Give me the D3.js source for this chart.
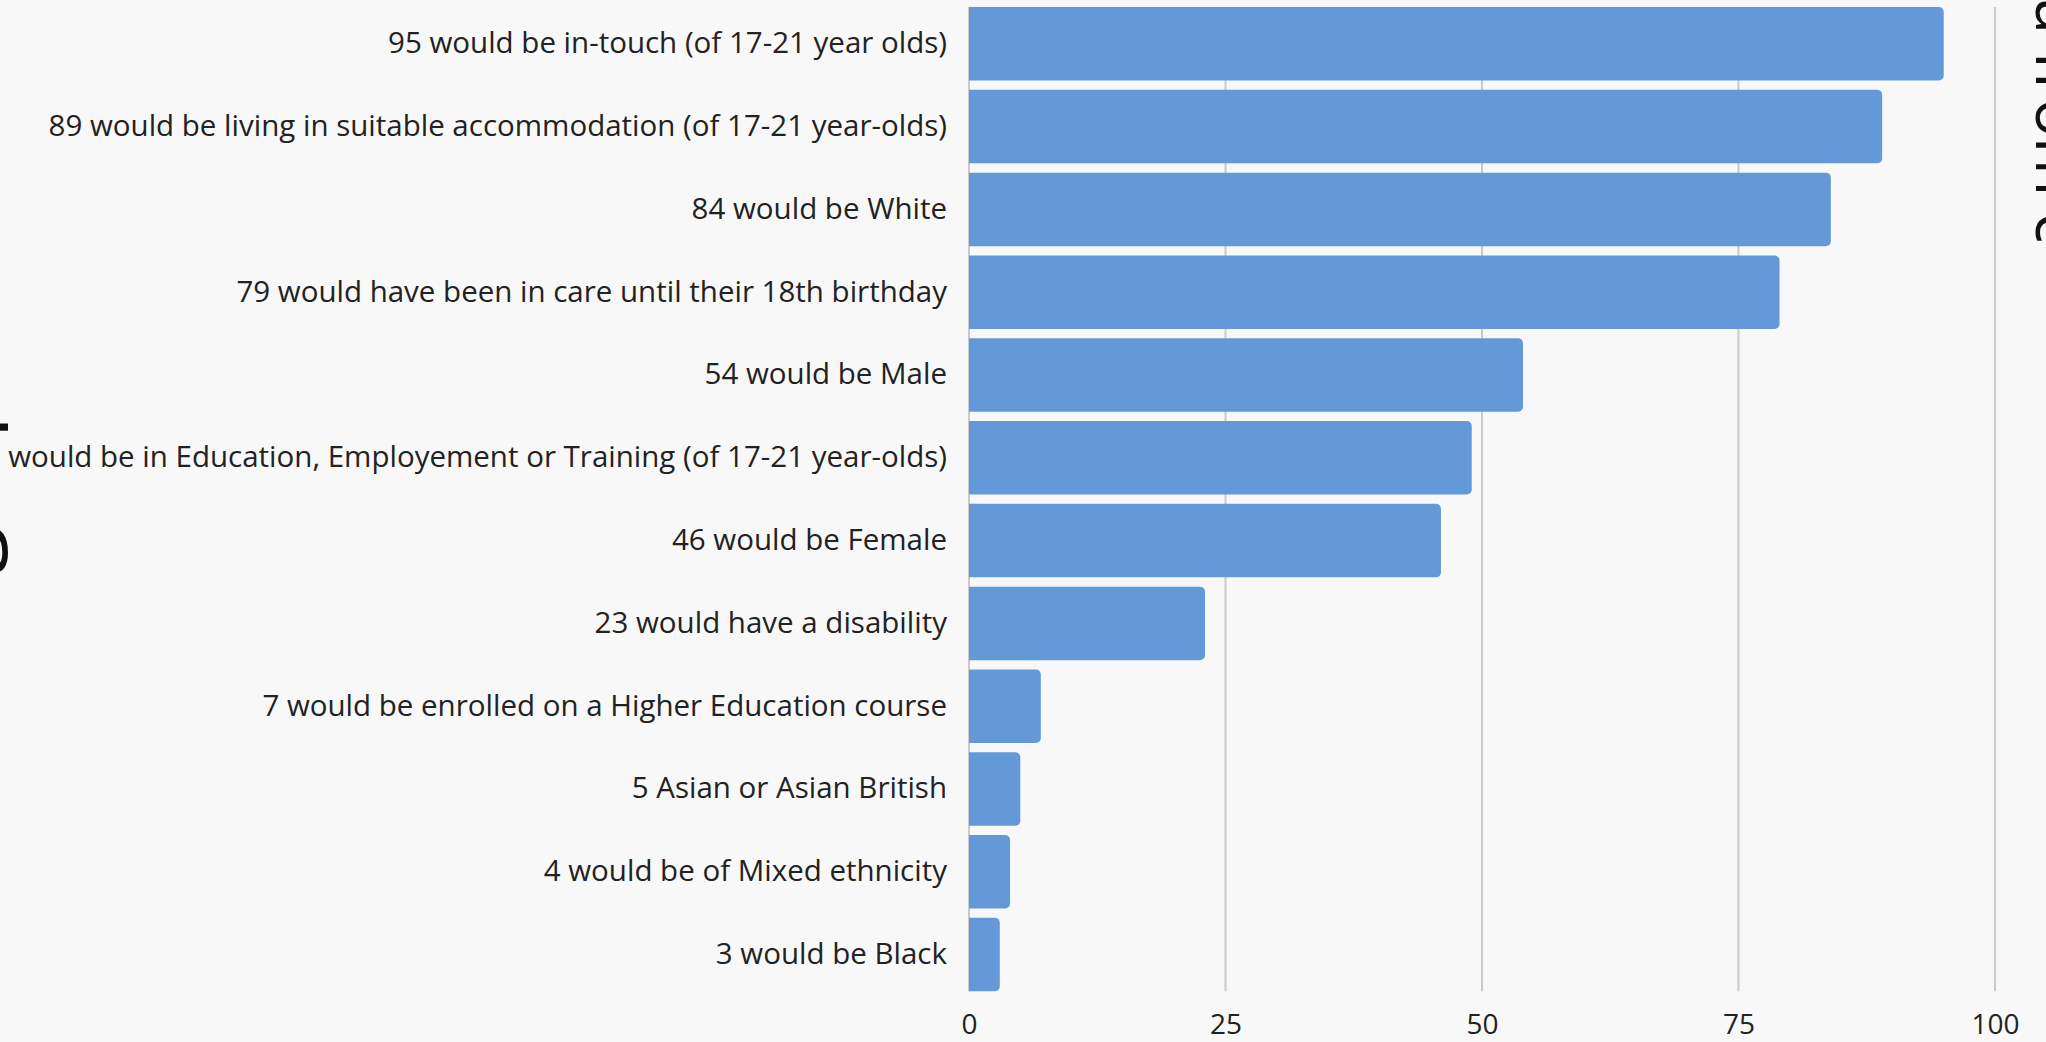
<!DOCTYPE html>
<html>
<head>
<meta charset="utf-8">
<script src="https://cdn.jsdelivr.net/npm/d3@7"></script>
<style>
  html, body { margin: 0; padding: 0; background: #f8f8f8; overflow: hidden; }
  svg { display: block; font-family: "Open Sans", sans-serif; }
</style>
</head>
<body>
<svg id="chart"></svg>
<script>
// Out of every 100 care leavers...
const categories = [
  "95 would be in-touch (of 17-21 year olds)",
  "89 would be living in suitable accommodation (of 17-21 year-olds)",
  "84 would be White",
  "79 would have been in care until their 18th birthday",
  "54 would be Male",
  "49 would be in Education, Employement or Training (of 17-21 year-olds)",
  "46 would be Female",
  "23 would have a disability",
  "7 would be enrolled on a Higher Education course",
  "5 Asian or Asian British",
  "4 would be of Mixed ethnicity",
  "3 would be Black"
];
const values = [95, 89, 84, 79, 54, 49, 46, 23, 7, 5, 4, 3];
const xTicks = [0, 25, 50, 75, 100];
const leftTitle = "Demographic";
const rightTitle = "data from c";

const W = 2046, H = 1042;
const svg = d3.select("#chart").attr("width", W).attr("height", H);
svg.append("rect").attr("width", W).attr("height", H).attr("fill", "#f8f8f8");

const x = d3.scaleLinear().domain([0, 100]).range([969, 1995]);
const y = d3.scaleBand()
  .domain(categories)
  .range([2.4, 996])
  .paddingInner(0.112)
  .paddingOuter(0.056);

const plotTop = y(categories[0]);
const plotBottom = y(categories[categories.length - 1]) + y.bandwidth();

// vertical gridlines
svg.append("g")
  .selectAll("line")
  .data(xTicks)
  .join("line")
  .attr("x1", d => x(d)).attr("x2", d => x(d))
  .attr("y1", plotTop).attr("y2", plotBottom)
  .attr("stroke", "#cacaca")
  .attr("stroke-width", 2);

// bars, rounded on the value end only
const r = 5;
function barPath(v, cat) {
  const x0 = x(0), x1 = x(v);
  const y0 = y(cat), y1 = y0 + y.bandwidth();
  const rr = Math.min(r, (x1 - x0) / 2);
  return `M${x0},${y0}H${x1 - rr}A${rr},${rr} 0 0 1 ${x1},${y0 + rr}` +
         `V${y1 - rr}A${rr},${rr} 0 0 1 ${x1 - rr},${y1}H${x0}Z`;
}
svg.append("g")
  .selectAll("path")
  .data(categories.map((c, i) => ({ c, v: values[i] })))
  .join("path")
  .attr("d", d => barPath(d.v, d.c))
  .attr("fill", "#6399d9");

// category labels
const yAxis = svg.append("g")
  .attr("transform", `translate(${x(0)},0)`)
  .call(d3.axisLeft(y).tickSize(0).tickPadding(22));
yAxis.select(".domain").remove();
yAxis.selectAll("text")
  .attr("font-family", "'Open Sans', sans-serif")
  .attr("font-size", 29.5)
  .attr("fill", "#222");

// value axis labels
const xAxis = svg.append("g")
  .attr("transform", `translate(0,${plotBottom})`)
  .call(d3.axisBottom(x).tickValues(xTicks).tickSize(0).tickPadding(23));
xAxis.select(".domain").remove();
xAxis.selectAll("text")
  .attr("font-family", "'Open Sans', sans-serif")
  .attr("font-size", 28)
  .attr("fill", "#222");

// side titles
svg.append("text")
  .attr("transform", `translate(-14,545) rotate(-90)`)
  .attr("text-anchor", "middle")
  .attr("font-size", 90)
  .attr("fill", "#111")
  .text(leftTitle);

svg.append("text")
  .attr("transform", `translate(2036,-99) rotate(90)`)
  .attr("text-anchor", "start")
  .attr("font-size", 64)
  .attr("fill", "#111")
  .text(rightTitle);
</script>
</body>
</html>
